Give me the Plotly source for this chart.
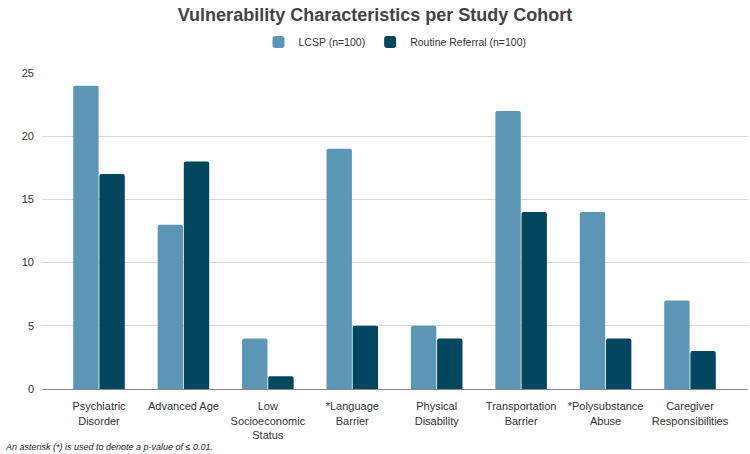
import plotly.graph_objects as go

categories = ["Psychiatric<br>Disorder", "Advanced Age", "Low<br>Socioeconomic<br>Status",
              "*Language<br>Barrier", "Physical<br>Disability", "Transportation<br>Barrier",
              "*Polysubstance<br>Abuse", "Caregiver<br>Responsibilities"]
lcsp = [24, 13, 4, 19, 5, 22, 14, 7]
routine = [17, 18, 1, 5, 4, 14, 4, 3]
y_ticks = [0, 5, 10, 15, 20, 25]

fig = go.Figure()
fig.add_trace(go.Bar(x=categories, y=lcsp, name="LCSP (n=100)",
                     marker=dict(color="#5b96b5", line=dict(width=0), cornerradius=2)))
fig.add_trace(go.Bar(x=categories, y=routine, name="Routine Referral (n=100)",
                     marker=dict(color="#02465f", line=dict(width=0), cornerradius=2)))

fig.update_layout(
    width=750, height=454,
    paper_bgcolor="white", plot_bgcolor="white",
    font=dict(family="Liberation Sans, Arial, sans-serif", size=11, color="#444444"),
    title=dict(text="<b>Vulnerability Characteristics per Study Cohort</b>",
               x=0.5, xanchor="center", y=1 - 15 / 454, yanchor="middle",
               font=dict(size=18, color="#434343")),
    legend=dict(orientation="h", x=0.5, xanchor="center", yref="container",
                y=1 - 42 / 454, yanchor="middle",
                font=dict(size=10.5, color="#333333"), itemwidth=30),
    margin=dict(l=42, r=2, t=73, b=65, autoexpand=False),
    barmode="group", bargap=0.38, bargroupgap=0.03,
    xaxis=dict(showgrid=False, showline=True, linecolor="#888888", linewidth=1,
               range=[-0.675, 7.687], tickfont=dict(size=11, color="#333333"),
               ticks="", ticklabelstandoff=7),
    yaxis=dict(range=[0, 25], tickvals=y_ticks, showgrid=True, gridcolor="#d9d9d9",
               zeroline=False, tickfont=dict(size=11, color="#333333"), ticks="",
               ticklabelstandoff=7),
    annotations=[dict(text="<i>An asterisk (*) is used to denote a p-value of ≤ 0.01.</i>",
                      xref="paper", yref="paper", x=-39 / 706, y=-58 / 316,
                      xanchor="left", yanchor="middle", showarrow=False,
                      font=dict(size=9, color="#222222"))]
)

fig.write_html("out.html", config={"displayModeBar": False},
               post_script="document.body.style.margin='0';")
